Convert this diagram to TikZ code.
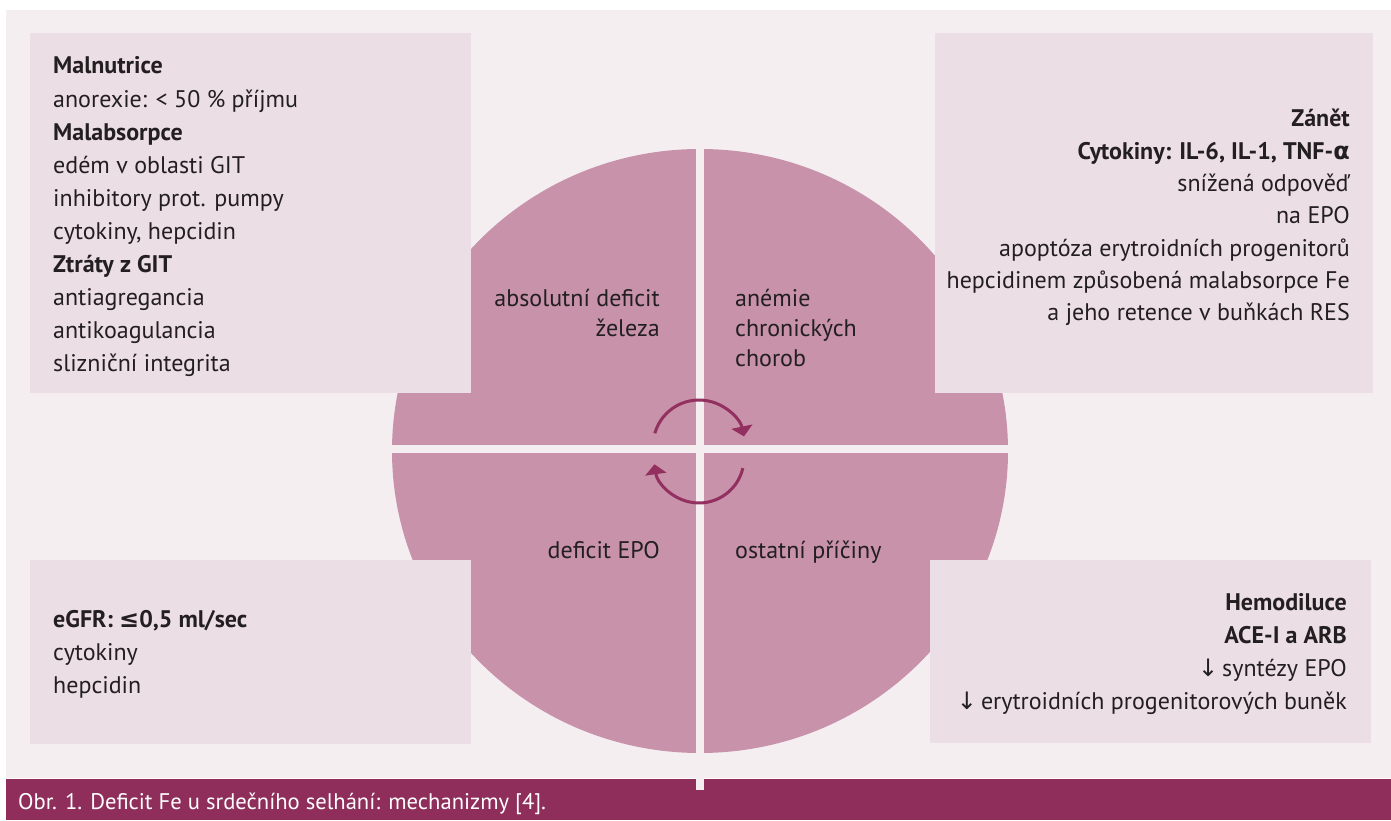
\documentclass[tikz,border=0pt]{standalone}
\usepackage{fontspec}
\setmainfont{PT Sans}
\newfontfamily\symf{DejaVu Sans}
\usetikzlibrary{arrows.meta,calc}
\definecolor{panel}{HTML}{F4EEF1}
\definecolor{boxc}{HTML}{ECDEE5}
\definecolor{circc}{HTML}{C792AA}
\definecolor{barc}{HTML}{8F2D5B}
\definecolor{arrc}{HTML}{93305F}
\definecolor{ink}{HTML}{231F20}
\begin{document}
\begin{tikzpicture}[x=1pt,y=1pt,
  boxfill/.style={fill=boxc,draw=none},
  txt/.style={font=\fontsize{24}{28}\selectfont,text=ink,inner sep=0pt},
  ctxt/.style={font=\fontsize{24}{28}\selectfont,text=ink,inner sep=0pt},
  captxt/.style={font=\fontsize{22.6}{26}\selectfont,text=white,inner sep=0pt},
  cyc/.style={draw=arrc,line width=3pt,-{Triangle[width=21pt,length=10pt]}}]
\useasboundingbox (0,0) rectangle (1391,820);
\fill[white] (0,0) rectangle (1391,820);
% panel and caption bar
\fill[panel] (6,42) rectangle (1391,810);
\fill[barc] (6,0) rectangle (1391,41);
% circle
\fill[circc] (700,369) ellipse [x radius=308, y radius=302];
% cross
\fill[panel] (696,30) rectangle (704,690);
\fill[panel] (380,367) rectangle (1020,375);
% boxes
\fill[boxfill] (30,427) rectangle (471,787);
\fill[boxfill] (935,427) rectangle (1373,787);
\fill[boxfill] (30,76) rectangle (471,260);
\fill[boxfill] (930,77) rectangle (1371,260);
% top-left text
\foreach \t [count=\i] in {{\textbf{Malnutrice}},{anorexie: < 50 \% příjmu},{\textbf{Malabsorpce}},{edém v oblasti GIT},{inhibitory prot. pumpy},{cytokiny, hepcidin},{\textbf{Ztráty z GIT}},{antiagregancia},{antikoagulancia},{slizniční integrita}}
  {\node[txt,anchor=base west] (tl\i) at (53,{746-33.1*(\i-1)}) {\t};}
% top-right text
\foreach \t [count=\i] in {{\textbf{Zánět}},{\textbf{Cytokiny: IL-6, IL-1, TNF-{\symf\bfseries α}}},{snížená odpověď},{na EPO},{apoptóza erytroidních progenitorů},{hepcidinem způsobená malabsorpce Fe},{a jeho retence v buňkách RES}}
  {\node[txt,anchor=base east] (tr\i) at (1350,{693-32.3*(\i-1)}) {\t};}
% bottom-left text
\foreach \t [count=\i] in {{\textbf{eGFR: {\symf\bfseries ≤}0,5 ml/sec}},{cytokiny},{hepcidin}}
  {\node[txt,anchor=base west] (bl\i) at (53,{193-33.3*(\i-1)}) {\t};}
% bottom-right text
\foreach \t [count=\i] in {{\textbf{Hemodiluce}},{\textbf{ACE-I a ARB}},{{\symf ↓}\,syntézy EPO},{{\symf ↓}\,erytroidních progenitorových buněk}}
  {\node[txt,anchor=base east] (br\i) at (1347,{210-33.3*(\i-1)}) {\t};}
% circle labels
\node[ctxt,anchor=base east] (q1a) at (660,513) {absolutní deficit};
\node[ctxt,anchor=base east] (q1b) at (660,483) {železa};
\node[ctxt,anchor=base west] (q2a) at (735,513) {anémie};
\node[ctxt,anchor=base west] (q2b) at (735,483) {chronických};
\node[ctxt,anchor=base west] (q2c) at (735,453) {chorob};
\node[ctxt,anchor=base east] (q3) at (660,262) {deficit EPO};
\node[ctxt,anchor=base west] (q4) at (735,262) {ostatní příčiny};
% cycle arrows
\coordinate (ctop) at (699,374);
\coordinate (cbot) at (699,362);
\draw[cyc] ($(ctop)+(164:46)$) arc[start angle=164,end angle=12,radius=46];
\draw[cyc] ($(cbot)+(-13:45)$) arc[start angle=-13,end angle=-172,radius=45];
% caption
\node[captxt,anchor=base west] (cap) at (18,11) {Obr. 1. Deficit Fe u srdečního selhání: mechanizmy [4].};
\end{tikzpicture}
\end{document}
